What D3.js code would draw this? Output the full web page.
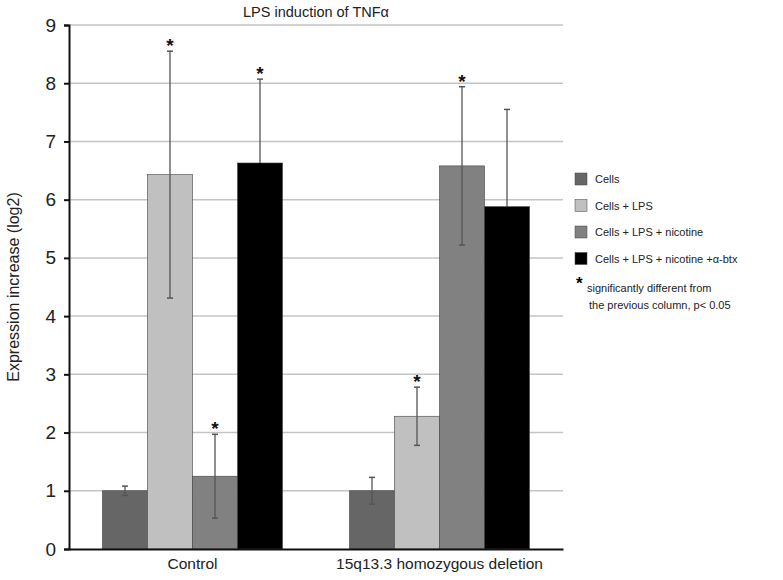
<!DOCTYPE html>
<html>
<head>
<meta charset="utf-8">
<script src="https://cdn.jsdelivr.net/npm/d3@7"></script>
<style>
  body { margin: 0; background: #fff; }
  text { font-family: "Liberation Sans", Arial, sans-serif; }
</style>
</head>
<body>
<div id="chart"></div>
<script>
// data
var groups = ["Control", "15q13.3 homozygous deletion"];
var series = ["Cells", "Cells + LPS", "Cells + LPS + nicotine", "Cells + LPS + nicotine +\u03b1-btx"];
var colors = ["#666666", "#c0c0c0", "#818181", "#000000"];
var controlVals = [1.0, 6.43, 1.25, 6.63];
var controlErr = [0.08, 2.12, 0.72, 1.44];
var deletionVals = [1.0, 2.28, 6.58, 5.88];
var deletionErr = [0.23, 0.5, 1.36, 1.67];
var controlStar = [false, true, true, true];
var deletionStar = [false, true, true, false];
var yTicks = [0, 1, 2, 3, 4, 5, 6, 7, 8, 9];

var width = 783, height = 580;
var margin = {top: 25, right: 220, bottom: 31, left: 69};

var svg = d3.select("#chart").append("svg")
  .attr("width", width)
  .attr("height", height);

var rows = [];
groups.forEach(function(g, gi) {
  var vals = gi === 0 ? controlVals : deletionVals;
  var errs = gi === 0 ? controlErr : deletionErr;
  var stars = gi === 0 ? controlStar : deletionStar;
  series.forEach(function(s, si) {
    rows.push({group: g, series: s, value: vals[si], err: errs[si], star: stars[si], i: si});
  });
});

var x0 = d3.scaleBand().domain(groups)
  .range([margin.left, width - margin.right]).padding(0);
var x1 = d3.scaleBand().domain(series)
  .range([0, x0.bandwidth()]).paddingInner(0).paddingOuter(0.744);
var y = d3.scaleLinear().domain([0, 9])
  .range([height - margin.bottom, margin.top]);

// gridlines
svg.append("g").selectAll("line")
  .data(yTicks.filter(function(t) { return t > 0; }))
  .enter().append("line")
  .attr("x1", margin.left).attr("x2", width - margin.right)
  .attr("y1", function(d) { return y(d); })
  .attr("y2", function(d) { return y(d); })
  .attr("stroke", "#c4c4c4").attr("stroke-width", 1.5);

// bars
svg.append("g").selectAll("rect")
  .data(rows)
  .enter().append("rect")
  .attr("x", function(d) { return x0(d.group) + x1(d.series); })
  .attr("y", function(d) { return y(d.value); })
  .attr("width", x1.bandwidth())
  .attr("height", function(d) { return y(0) - y(d.value); })
  .attr("fill", function(d) { return colors[d.i]; })
  .attr("stroke", "#444").attr("stroke-width", 0.6);

// error bars (lower half disappears inside the black bars like the original)
function lowColor(d) { return d.i === 3 ? "#000" : "#555"; }
var eb = svg.append("g").selectAll("g")
  .data(rows).enter().append("g")
  .attr("transform", function(d) {
    return "translate(" + (x0(d.group) + x1(d.series) + x1.bandwidth() / 2) + ",0)";
  });
eb.append("line")
  .attr("y1", function(d) { return y(d.value); })
  .attr("y2", function(d) { return y(d.value + d.err); })
  .attr("stroke", "#555").attr("stroke-width", 1.3);
eb.append("line")
  .attr("y1", function(d) { return y(d.value - d.err); })
  .attr("y2", function(d) { return y(d.value); })
  .attr("stroke", lowColor).attr("stroke-width", 1.3);
eb.append("line")
  .attr("x1", -3).attr("x2", 3)
  .attr("y1", function(d) { return y(d.value + d.err); })
  .attr("y2", function(d) { return y(d.value + d.err); })
  .attr("stroke", "#555").attr("stroke-width", 1.5);
eb.append("line")
  .attr("x1", -3).attr("x2", 3)
  .attr("y1", function(d) { return y(d.value - d.err); })
  .attr("y2", function(d) { return y(d.value - d.err); })
  .attr("stroke", lowColor).attr("stroke-width", 1.5);
eb.filter(function(d) { return d.star; }).append("text")
  .attr("y", function(d) { return y(d.value + d.err) + 1; })
  .attr("text-anchor", "middle")
  .style("font-size", "19px").style("font-weight", "bold").style("fill", "#111")
  .text("*");

// y axis
var yAxis = svg.append("g")
  .attr("transform", "translate(" + margin.left + ",0)")
  .call(d3.axisLeft(y).tickValues(yTicks).tickSize(5).tickPadding(8));
yAxis.select(".domain").attr("stroke", "#111").attr("stroke-width", 2);
yAxis.selectAll(".tick line").attr("stroke", "#111").attr("stroke-width", 2);
yAxis.selectAll("text")
  .style("font-size", "19px").style("fill", "#222")
  .attr("font-family", "'Liberation Sans', Arial, sans-serif");

// x axis
var xAxis = svg.append("g")
  .attr("transform", "translate(0," + y(0) + ")")
  .call(d3.axisBottom(x0).tickSize(0).tickPadding(9));
xAxis.select(".domain").attr("stroke", "#111").attr("stroke-width", 2);
xAxis.selectAll("text")
  .style("font-size", "15.5px").style("fill", "#222")
  .attr("font-family", "'Liberation Sans', Arial, sans-serif");

// title and axis label
svg.append("text")
  .attr("x", (margin.left + width - margin.right) / 2)
  .attr("y", 17)
  .attr("text-anchor", "middle")
  .style("font-size", "14.5px").style("fill", "#222")
  .text("LPS induction of TNF\u03b1");

svg.append("text")
  .attr("transform", "translate(19," + (y(4.5)) + ") rotate(-90)")
  .attr("text-anchor", "middle")
  .style("font-size", "16px").style("fill", "#222")
  .text("Expression increase (log2)");

// legend
var legend = svg.append("g").selectAll("g")
  .data(series).enter().append("g")
  .attr("transform", function(d, i) { return "translate(575," + (179 + i * 26.5) + ")"; });
legend.append("rect")
  .attr("x", 0).attr("y", -6).attr("width", 12).attr("height", 12)
  .attr("fill", function(d, i) { return colors[i]; })
  .attr("stroke", "#444").attr("stroke-width", 0.5);
legend.append("text")
  .attr("x", 20).attr("y", 4)
  .style("font-size", "11px").style("fill", "#222")
  .text(function(d) { return d; });

var note = svg.append("g");
note.append("text").attr("x", 576).attr("y", 289)
  .style("font-size", "17px").style("font-weight", "bold").text("*");
note.append("text").attr("x", 587).attr("y", 292)
  .style("font-size", "11px").style("fill", "#222")
  .text("significantly different from");
note.append("text").attr("x", 589).attr("y", 309)
  .style("font-size", "11px").style("fill", "#222")
  .text("the previous column, p< 0.05");
</script>
</body>
</html>
